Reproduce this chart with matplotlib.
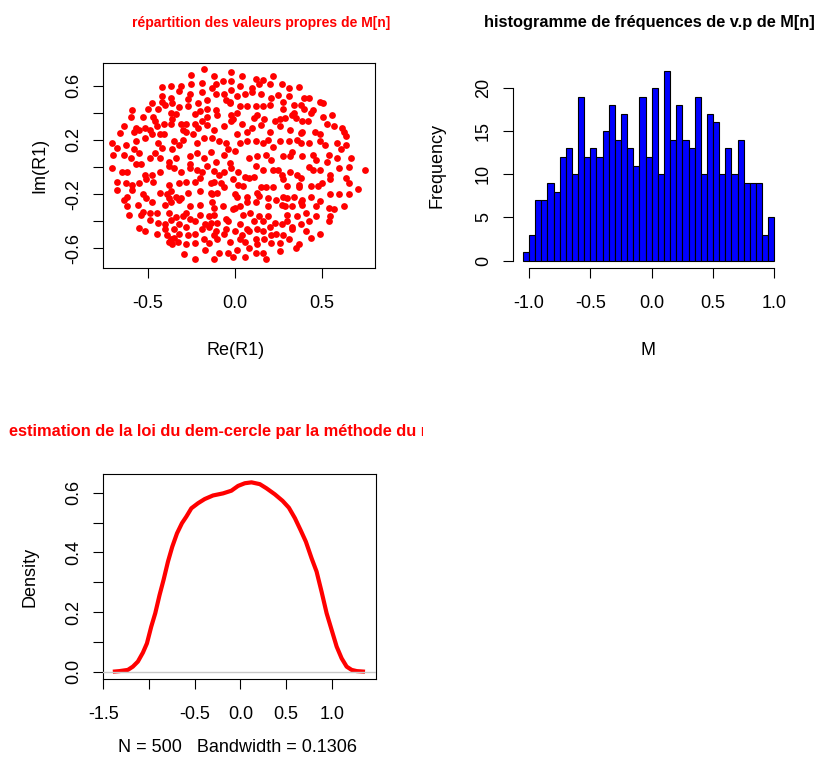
import matplotlib
matplotlib.use("Agg")
import matplotlib.pyplot as plt
from matplotlib.transforms import Bbox

plt.rcParams['font.family'] = ['Liberation Sans', 'DejaVu Sans']

# ---------------- data ----------------
# eigenvalues of R1 (real / imaginary parts), read from the scatter, band by band
re_b1 = [-0.18,-0.25,-0.02,-0.12,0.04,0.22,0.12,0.16,-0.19,-0.07,
         -0.11,-0.42,-0.37,-0.31,-0.25,-0.02,0.03,0.14,0.20,0.27,
         0.37,-0.13,0.10,-0.02,-0.32,-0.26,-0.42,-0.19,-0.11,-0.06,
         0.06,0.10,0.15,0.21,0.25,0.31,0.43,0.49,-0.37,-0.42,
         -0.40,-0.36,-0.27,-0.16,-0.21,-0.05,-0.03,0.01,0.31,-0.48,
         -0.44,-0.59,-0.50,-0.32,-0.27,-0.20,-0.16,-0.11,-0.03,0.03,
         0.07,0.12,0.16,0.20,0.28,0.34,0.38,0.40,0.51,0.28,
         0.34,0.40,0.45]
im_b1 = [0.72,0.68,0.70,0.67,0.67,0.67,0.65,0.64,0.62,0.63,
         0.61,0.59,0.60,0.60,0.61,0.63,0.60,0.61,0.61,0.61,
         0.59,0.58,0.58,0.57,0.56,0.54,0.52,0.55,0.54,0.54,
         0.54,0.55,0.54,0.51,0.53,0.52,0.51,0.48,0.51,0.48,
         0.46,0.47,0.50,0.49,0.47,0.49,0.48,0.52,0.58,0.47,
         0.43,0.42,0.43,0.44,0.45,0.41,0.43,0.42,0.47,0.45,
         0.45,0.45,0.45,0.46,0.48,0.46,0.46,0.51,0.47,0.43,
         0.40,0.43,0.42]

re_b2 = [-0.60,-0.53,-0.47,-0.46,-0.41,-0.37,-0.34,-0.36,-0.37,-0.31,
         -0.28,-0.23,-0.23,-0.19,-0.16,-0.10,-0.02,-0.01,0.01,0.04,
         0.11,0.13,0.17,0.23,0.26,0.29,0.33,0.35,0.39,0.42,
         0.44,0.51,0.56,0.53,0.57,-0.64,-0.57,-0.58,-0.55,-0.49,
         -0.66,-0.52,-0.45,-0.30,-0.28,-0.21,-0.16,-0.12,-0.06,-0.02,
         0.10,0.07,0.15,0.20,0.26,0.32,0.38,0.39,0.46,0.49,
         0.63,0.64,0.62]
im_b2 = [0.37,0.37,0.37,0.34,0.32,0.40,0.39,0.35,0.32,0.32,
         0.32,0.39,0.32,0.34,0.37,0.38,0.38,0.35,0.40,0.32,
         0.36,0.38,0.35,0.34,0.35,0.36,0.38,0.36,0.34,0.34,
         0.40,0.37,0.38,0.32,0.30,0.30,0.29,0.26,0.27,0.27,
         0.25,0.29,0.30,0.27,0.26,0.29,0.31,0.27,0.30,0.34,
         0.29,0.26,0.31,0.26,0.30,0.27,0.25,0.26,0.26,0.24,
         0.26,0.23,0.29]

re_b3 = [-0.71,-0.68,-0.63,-0.58,-0.57,-0.52,-0.48,-0.43,-0.41,-0.44,
         -0.42,-0.35,-0.32,-0.36,-0.30,-0.24,-0.22,-0.18,-0.13,-0.09,
         -0.05,-0.04,0.01,0.03,0.07,0.12,0.16,0.19,0.22,0.26,
         0.31,0.36,0.38,0.43,0.49,0.52,0.59,0.64,0.61,-0.70,
         -0.64,-0.60,-0.55,-0.49,-0.46,-0.43,-0.38,-0.34,-0.26,-0.22,
         -0.18,-0.14,-0.11,-0.06,-0.03,0.00,0.08,0.13,0.18,0.21,
         0.28,0.32,0.33,0.39,0.45,0.47,0.54,0.59,0.67,0.53]
im_b3 = [0.18,0.14,0.16,0.13,0.19,0.21,0.24,0.24,0.24,0.18,
         0.14,0.19,0.16,0.13,0.20,0.24,0.18,0.21,0.21,0.19,
         0.18,0.13,0.24,0.18,0.19,0.19,0.18,0.20,0.15,0.19,
         0.19,0.20,0.18,0.18,0.19,0.16,0.18,0.16,0.13,0.09,
         0.09,0.07,0.10,0.07,0.10,0.07,0.04,0.07,0.08,0.10,
         0.07,0.11,0.04,0.09,0.03,0.12,0.07,0.08,0.09,0.05,
         0.08,0.08,0.11,0.08,0.09,0.05,0.09,0.07,0.07,0.04]

re_b4 = [-0.71,-0.65,-0.62,-0.57,-0.54,-0.52,-0.48,-0.43,-0.38,-0.35,
         -0.31,-0.26,-0.26,-0.22,-0.19,-0.16,-0.12,-0.09,-0.06,-0.02,
         0.02,0.06,0.11,0.12,0.16,0.22,0.25,0.27,0.32,0.36,
         0.38,0.43,0.45,0.49,0.55,0.60,0.66,0.75,0.64,-0.68,
         -0.63,-0.59,-0.55,-0.51,-0.47,-0.38,-0.37,-0.32,-0.28,-0.23,
         -0.20,-0.14,-0.12,-0.08,-0.06,-0.01,0.02,0.05,0.08,0.15,
         0.18,0.22,0.28,0.30,0.37,0.44,0.48,0.50,0.55,0.66,
         0.71]
im_b4 = [-0.01,-0.04,-0.04,0.02,0.02,-0.06,-0.06,-0.04,0.01,-0.01,
         -0.04,0.02,-0.01,-0.02,-0.04,0.01,-0.03,-0.06,-0.04,-0.01,
         -0.04,-0.07,-0.07,0.01,-0.02,-0.02,-0.02,-0.06,-0.04,-0.06,
         -0.08,0.00,-0.02,-0.02,-0.06,-0.01,0.00,-0.02,-0.08,-0.11,
         -0.12,-0.13,-0.12,-0.09,-0.11,-0.13,-0.18,-0.12,-0.11,-0.11,
         -0.08,-0.12,-0.11,-0.12,-0.15,-0.09,-0.13,-0.14,-0.08,-0.15,
         -0.15,-0.15,-0.09,-0.14,-0.13,-0.14,-0.14,-0.12,-0.09,-0.12,
         -0.16]

re_b5 = [-0.68,-0.64,-0.62,-0.59,-0.53,-0.51,-0.48,-0.43,-0.39,-0.38,
         -0.34,-0.31,-0.27,-0.20,-0.14,-0.13,-0.10,0.00,0.01,0.07,
         0.13,0.14,0.19,0.24,0.28,0.30,0.34,0.37,0.39,0.44,
         0.49,0.55,0.60,0.66,-0.62,-0.56,-0.53,-0.49,-0.40,-0.37,
         -0.32,-0.26,-0.20,-0.13,-0.12,-0.07,0.00,0.03,0.07,0.12,
         0.19,0.27,0.29,0.33,0.38,0.39,0.47,0.54,0.57,0.63]
im_b5 = [-0.17,-0.24,-0.22,-0.17,-0.20,-0.23,-0.26,-0.19,-0.20,-0.23,
         -0.22,-0.23,-0.19,-0.18,-0.19,-0.20,-0.19,-0.20,-0.22,-0.22,
         -0.19,-0.21,-0.23,-0.24,-0.22,-0.23,-0.22,-0.15,-0.24,-0.22,
         -0.25,-0.20,-0.20,-0.20,-0.29,-0.28,-0.33,-0.34,-0.28,-0.26,
         -0.24,-0.29,-0.28,-0.26,-0.30,-0.29,-0.30,-0.29,-0.26,-0.26,
         -0.29,-0.28,-0.29,-0.29,-0.26,-0.28,-0.29,-0.30,-0.31,-0.29]

re_b6 = [-0.61,-0.54,-0.45,-0.38,-0.34,-0.30,-0.28,-0.26,-0.20,-0.15,
         -0.12,-0.05,-0.01,0.05,0.09,0.14,0.19,0.23,0.30,0.36,
         0.41,0.47,0.55,-0.49,-0.44,-0.40,-0.37,-0.32,-0.28,-0.23,
         -0.17,-0.14,-0.10,-0.04,0.03,0.07,0.11,0.16,0.20,0.27,
         0.30,0.33,0.38,0.43,0.54,-0.55,-0.52,-0.45,-0.40,-0.35,
         -0.32,-0.23,-0.19,-0.15,-0.11,-0.05,0.00,0.04,0.08,0.13,
         0.16,0.21,0.24,0.28,0.33,0.41,0.49]
im_b6 = [-0.35,-0.35,-0.34,-0.34,-0.37,-0.36,-0.34,-0.38,-0.35,-0.36,
         -0.35,-0.38,-0.31,-0.35,-0.34,-0.36,-0.36,-0.41,-0.35,-0.36,
         -0.34,-0.36,-0.36,-0.39,-0.41,-0.42,-0.39,-0.42,-0.44,-0.40,
         -0.42,-0.41,-0.41,-0.40,-0.42,-0.46,-0.40,-0.40,-0.44,-0.42,
         -0.40,-0.44,-0.42,-0.40,-0.40,-0.45,-0.47,-0.49,-0.46,-0.46,
         -0.49,-0.49,-0.46,-0.44,-0.47,-0.46,-0.47,-0.50,-0.47,-0.46,
         -0.47,-0.50,-0.49,-0.50,-0.46,-0.47,-0.49]

re_b7 = [-0.39,-0.38,-0.37,-0.36,-0.33,-0.35,-0.27,-0.28,-0.23,-0.18,
         -0.15,-0.12,-0.06,-0.10,-0.03,0.03,0.06,0.12,0.13,0.17,
         0.21,0.26,0.31,0.37,0.44,-0.29,-0.23,-0.17,-0.12,-0.09,
         -0.04,0.01,-0.01,0.06,0.12,0.16,0.18,0.26,0.35,0.08]
im_b7 = [-0.50,-0.55,-0.53,-0.57,-0.55,-0.52,-0.50,-0.57,-0.56,-0.53,
         -0.56,-0.50,-0.49,-0.53,-0.55,-0.53,-0.55,-0.53,-0.57,-0.53,
         -0.56,-0.56,-0.53,-0.57,-0.52,-0.64,-0.68,-0.61,-0.68,-0.63,
         -0.63,-0.61,-0.66,-0.66,-0.63,-0.63,-0.68,-0.62,-0.60,-0.60]

re_vals = re_b1 + re_b2 + re_b3 + re_b4 + re_b5 + re_b6 + re_b7
im_vals = im_b1 + im_b2 + im_b3 + im_b4 + im_b5 + im_b6 + im_b7

# histogram of the eigenvalues of M (bins of width 0.05 from -1.05 to 1.0)
hist_start = -1.05
bin_width = 0.05
hist_counts = [1, 3, 7, 7, 9, 8, 12, 13, 10, 19,
               12, 13, 12, 15, 18, 14, 17, 13, 11, 19,
               12, 20, 10, 22, 14, 18, 14, 13, 19, 10,
               17, 16, 10, 13, 10, 14, 9, 9, 9, 3, 5]

# kernel density estimate
dens_x = [-1.396,-1.323,-1.232,-1.177,-1.122,-1.067,-1.023,-0.976,-0.932,-0.885,
          -0.841,-0.793,-0.746,-0.694,-0.640,-0.592,-0.537,-0.464,-0.391,-0.300,
          -0.190,-0.099,-0.026,0.048,0.121,0.212,0.285,0.376,0.461,0.530,
          0.596,0.658,0.716,0.779,0.833,0.888,0.943,0.998,1.053,1.107,
          1.162,1.217,1.272,1.363]
dens_y = [0.000,0.002,0.006,0.017,0.034,0.064,0.095,0.151,0.196,0.257,
          0.308,0.369,0.419,0.464,0.498,0.520,0.548,0.565,0.579,0.591,
          0.598,0.607,0.623,0.632,0.635,0.629,0.615,0.595,0.573,0.550,
          0.515,0.475,0.436,0.380,0.336,0.268,0.196,0.140,0.084,0.045,
          0.017,0.006,0.002,0.000]

# ---------------- figure ----------------
W, H = 819, 770
fig = plt.figure(figsize=(W / 100, H / 100), dpi=100)
fig.patch.set_facecolor('white')

def rect(l, t, r, b):
    return [l / W, 1 - b / H, (r - l) / W, (b - t) / H]

def fx(px):
    return px / W

def fy(py):
    return 1 - py / H

TICK_FS = 13
LAB_FS = 13
TITLE_FS = 11.8

def style(ax):
    ax.tick_params(direction='out', length=7, width=0.8, labelsize=TICK_FS,
                   colors='black')
    ax.tick_params(axis='x', pad=12)
    ax.tick_params(axis='y', pad=8)
    for s in ax.spines.values():
        s.set_linewidth(0.8)
        s.set_color('black')

# --- panel 1 : scatter
ax1 = fig.add_axes(rect(103.3, 63, 375, 268.3))
ax1.scatter(re_vals, im_vals, s=24, color='#ff0000', linewidths=0)
ax1.set_xlim(-0.758, 0.808)
ax1.set_ylim(-0.746, 0.766)
ax1.set_xticks([-0.5, 0.0, 0.5])
ax1.set_xticklabels(['-0.5', '0.0', '0.5'])
ax1.set_yticks([-0.6, -0.4, -0.2, 0.0, 0.2, 0.4, 0.6])
ax1.set_yticklabels(['-0.6', '', '-0.2', '', '0.2', '', '0.6'],
                    rotation=90, va='center')
style(ax1)

# --- panel 2 : histogram
ax2 = fig.add_axes(rect(512.8, 63, 784.5, 268.3))
edges = [hist_start + i * bin_width for i in range(len(hist_counts))]
ax2.bar(edges, hist_counts, width=bin_width, align='edge',
        color='#0000ff', edgecolor='black', linewidth=0.8)
ax2.set_xlim(-1.132, 1.082)
ax2.set_ylim(-0.88, 22.88)
ax2.set_xticks([-1.0, -0.5, 0.0, 0.5, 1.0])
ax2.set_xticklabels(['-1.0', '-0.5', '0.0', '0.5', '1.0'])
ax2.set_yticks([0, 5, 10, 15, 20])
ax2.set_yticklabels(['0', '5', '10', '15', '20'], rotation=90, va='center')
ax2.spines['top'].set_visible(False)
ax2.spines['right'].set_visible(False)
ax2.spines['left'].set_bounds(0, 20)
ax2.spines['bottom'].set_bounds(-1.0, 1.0)
style(ax2)

# --- panel 3 : density
ax3 = fig.add_axes(rect(102.7, 474, 375.7, 679.3))
ax3.plot(dens_x, dens_y, color='#ff0000', linewidth=3.0, solid_capstyle='butt',
         solid_joinstyle='round')
ax3.axhline(0, color='#c8c8c8', linewidth=1.0, zorder=5)
ax3.set_xlim(-1.507, 1.480)
ax3.set_ylim(-0.0255, 0.663)
ax3.set_xticks([-1.5, -1.0, -0.5, 0.0, 0.5, 1.0])
ax3.set_xticklabels(['-1.5', '', '-0.5', '0.0', '0.5', '1.0'])
ax3.set_yticks([0.0, 0.1, 0.2, 0.3, 0.4, 0.5, 0.6])
ax3.set_yticklabels(['0.0', '', '0.2', '', '0.4', '', '0.6'],
                    rotation=90, va='center')
style(ax3)

# --- axis titles
fig.text(fx(236), fy(350), 'Re(R1)', ha='center', va='center', fontsize=LAB_FS)
fig.text(fx(40), fy(165), 'Im(R1)', ha='center', va='center', rotation=90,
         fontsize=LAB_FS)
fig.text(fx(648), fy(350), 'M', ha='center', va='center', fontsize=LAB_FS)
fig.text(fx(437), fy(166), 'Frequency', ha='center', va='center', rotation=90,
         fontsize=LAB_FS)
fig.text(fx(30), fy(577), 'Density', ha='center', va='center', rotation=90,
         fontsize=LAB_FS)
fig.text(fx(237), fy(747), 'N = 500   Bandwidth = 0.1306', ha='center',
         va='center', fontsize=LAB_FS)

# --- main titles
fig.text(fx(261), fy(27), 'répartition des valeurs propres de M[n]',
         ha='center', va='baseline', fontsize=10, fontweight='bold',
         color='#ff0000')
fig.text(fx(649), fy(27), 'histogramme de fréquences de v.p de M[n]',
         ha='center', va='baseline', fontsize=TITLE_FS, fontweight='bold',
         color='black')
t3 = fig.text(fx(239), fy(436),
              'estimation de la loi du dem-cercle par la méthode du noyau',
              ha='center', va='baseline', fontsize=TITLE_FS, fontweight='bold',
              color='#ff0000')
t3.set_clip_box(Bbox.from_extents(0, 0, 423, H))
t3.set_clip_on(True)

fig.savefig('out.png', dpi=100, facecolor='white')
